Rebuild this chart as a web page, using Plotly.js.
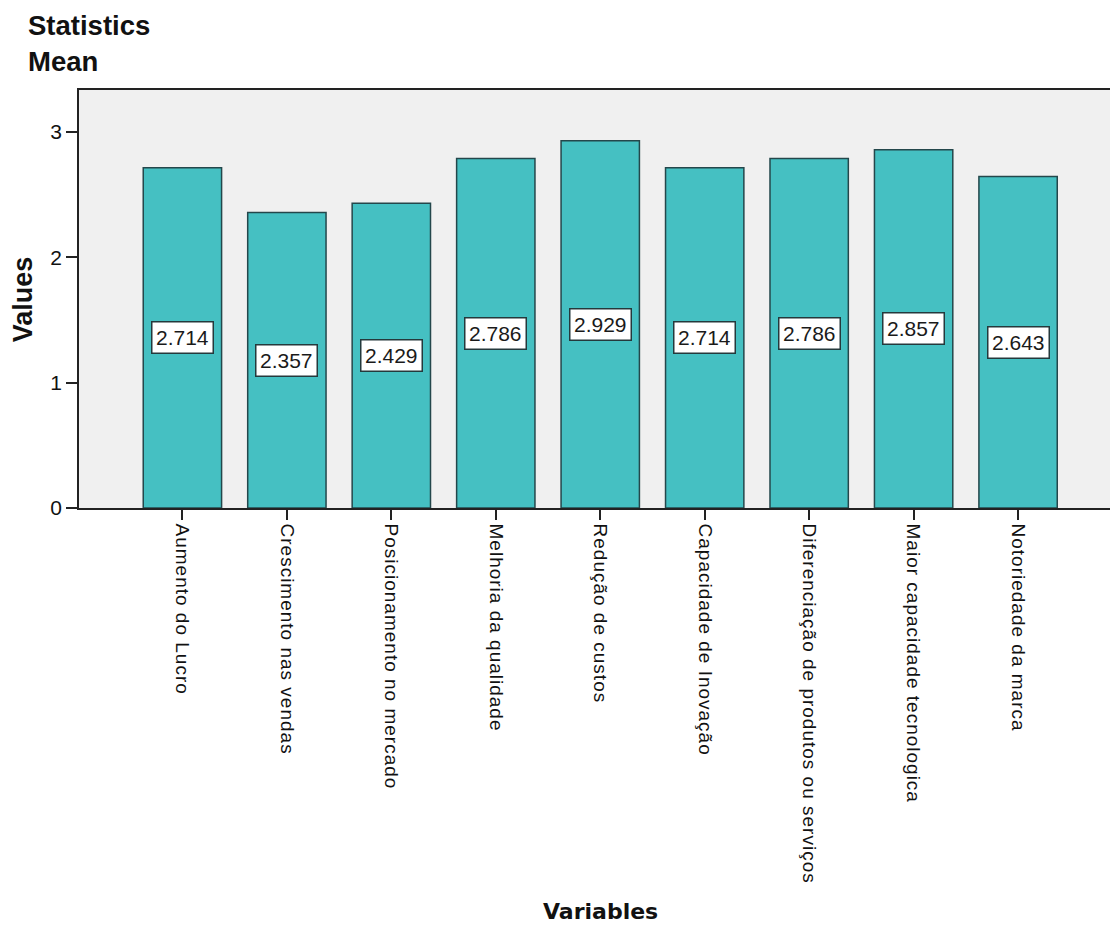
<!DOCTYPE html>
<html>
<head>
<meta charset="utf-8">
<script src="https://cdn.plot.ly/plotly-3.0.1.min.js"></script>
<style>
  html, body { margin: 0; padding: 0; background: #ffffff; }
  #chart { width: 1110px; height: 928px; }
  .xtick text { letter-spacing: 1px; }
</style>
</head>
<body>
<div id="chart"></div>
<script>
// Mean score per variable
const categories = [
  "Aumento do Lucro",
  "Crescimento nas vendas",
  "Posicionamento no mercado",
  "Melhoria da qualidade",
  "Redução de custos",
  "Capacidade de Inovação",
  "Diferenciação de produtos ou serviços",
  "Maior capacidade tecnologica",
  "Notoriedade da marca"
];
const means = [2.714, 2.357, 2.429, 2.786, 2.929, 2.714, 2.786, 2.857, 2.643];
const yTicks = [0, 1, 2, 3];

const axisColor = "#222222";
const labelFont = "Liberation Sans, Arial, sans-serif";

const bars = {
  type: "bar",
  x: categories,
  y: means,
  marker: { color: "#45c0c2", line: { color: "#24474b", width: 1.5 } },
  hoverinfo: "x+y"
};

// Boxed value labels sitting halfway up each bar
const valueLabels = categories.map((c, i) => ({
  x: c, y: means[i] / 2, xref: "x", yref: "y",
  text: means[i].toFixed(3),
  showarrow: false,
  font: { family: labelFont, size: 21, color: "#1a1a1a" },
  bgcolor: "#ffffff",
  bordercolor: "#24393c",
  borderwidth: 1.5,
  borderpad: 3.5
}));

const axisTitles = [
  {
    text: "Values", xref: "paper", yref: "paper",
    x: -0.054, y: 0.5, xanchor: "center", yanchor: "middle",
    textangle: -90, showarrow: false,
    font: { family: labelFont, size: 27, color: "#111", weight: "bold" }
  },
  {
    text: "Variables", xref: "paper", yref: "paper",
    x: 0.506, y: -1.0, xanchor: "center", yanchor: "bottom",
    showarrow: false,
    font: { family: "DejaVu Sans, Verdana, sans-serif", size: 22, color: "#111", weight: "bold" }
  }
];

const layout = {
  width: 1110,
  height: 928,
  margin: { l: 78.5, r: 0, t: 90, b: 420 },
  paper_bgcolor: "#ffffff",
  plot_bgcolor: "#f0f0f0",
  showlegend: false,
  bargap: 0.25,
  title: {
    text: "Statistics<br>Mean",
    xref: "container", yref: "container",
    x: 28 / 1110, xanchor: "left",
    y: 1 - 35 / 928, yanchor: "top",
    font: { family: labelFont, size: 27.5, color: "#111", weight: "bold" }
  },
  xaxis: {
    type: "category",
    range: [-0.99, 8.88],
    showline: true, linecolor: axisColor, linewidth: 1.5,
    mirror: true,
    ticks: "outside", ticklen: 10, tickwidth: 1.5, tickcolor: axisColor,
    tickangle: 90,
    tickfont: { family: labelFont, size: 19, color: "#111" },
    showgrid: false, zeroline: false,
    automargin: false
  },
  yaxis: {
    range: [0, 3.333],
    tickvals: yTicks,
    showline: true, linecolor: axisColor, linewidth: 1.5,
    ticks: "outside", ticklen: 11, tickwidth: 1.5, tickcolor: axisColor,
    tickfont: { family: labelFont, size: 21, color: "#111" },
    showgrid: false, zeroline: false,
    automargin: false
  },
  annotations: valueLabels.concat(axisTitles)
};

Plotly.newPlot("chart", [bars], layout, { displayModeBar: false, responsive: false });
</script>
</body>
</html>
